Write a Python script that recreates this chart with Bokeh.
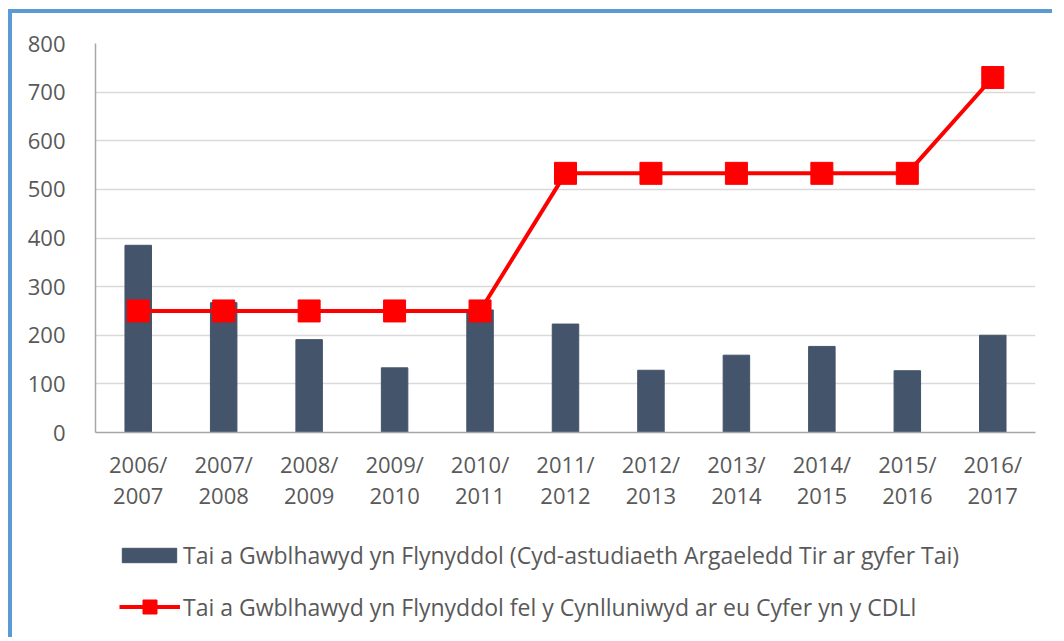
from bokeh.plotting import figure
from bokeh.models import FactorRange, Range1d, Legend, LegendItem, FixedTicker, ColumnDataSource, Spacer
from bokeh.layouts import column, row
from bokeh.embed import file_html
from bokeh.resources import INLINE

years = ["2006/\n2007", "2007/\n2008", "2008/\n2009", "2009/\n2010", "2010/\n2011",
         "2011/\n2012", "2012/\n2013", "2013/\n2014", "2014/\n2015", "2015/\n2016", "2016/\n2017"]
completed = [385, 267, 191, 133, 252, 223, 128, 159, 177, 127, 200]
planned = [250, 250, 250, 250, 250, 533, 533, 533, 533, 533, 730]
y_ticks = [0, 100, 200, 300, 400, 500, 600, 700, 800]

label_bar = "Tai a Gwblhawyd yn Flynyddol (Cyd-astudiaeth Argaeledd Tir ar gyfer Tai)"
label_line = "Tai a Gwblhawyd yn Flynyddol fel y Cynlluniwyd ar eu Cyfer yn y CDLl"

FONT = "Open Sans"
TXT = "#595959"
BAR = "#44546A"
RED = "#FF0000"
BLUE = "4px solid #5B9BD5"

src = ColumnDataSource(dict(x=years, completed=completed, planned=planned))
xr = FactorRange(factors=years, range_padding=0)

# ---- main chart ----
p = figure(frame_width=936, frame_height=385, x_range=xr, y_range=Range1d(0, 800),
           output_backend="svg", toolbar_location=None,
           min_border_left=83, min_border_right=21, min_border_top=30, min_border_bottom=89)
p.outline_line_color = None
p.border_fill_color = "white"

bars = p.vbar(x="x", top="completed", width=0.31, source=src, fill_color=BAR, line_color=BAR)
ln = p.line(x="x", y="planned", source=src, line_color=RED, line_width=4)
mk = p.scatter(x="x", y="planned", source=src, marker="square", size=22,
               fill_color=RED, line_color=RED)

p.xgrid.grid_line_color = None
p.ygrid.grid_line_color = "#D9D9D9"
p.ygrid.grid_line_width = 1.5

p.yaxis.ticker = FixedTicker(ticks=y_ticks)
for ax in (p.xaxis[0], p.yaxis[0]):
    ax.axis_line_color = "#A6A6A6"
    ax.axis_line_width = 1.5
    ax.major_tick_line_color = None
    ax.minor_tick_line_color = None
    ax.major_label_text_font = FONT
    ax.major_label_text_font_size = "22px"
    ax.major_label_text_color = TXT
p.yaxis.major_label_standoff = 24
p.xaxis.major_label_standoff = 10
p.xaxis.major_label_text_line_height = 1.05
p.styles = {"border-left": BLUE, "border-top": BLUE}

# ---- legend strip (same data, drawn out of its visible range; only the legend shows) ----
q = figure(width=1040, height=120, x_range=xr, y_range=Range1d(1000, 1100),
           output_backend="svg", toolbar_location=None,
           min_border_left=0, min_border_right=0, min_border_top=0, min_border_bottom=0)
q.axis.visible = False
q.grid.visible = False
q.outline_line_color = None
q.border_fill_color = "white"
qb = q.vbar(x="x", top="completed", width=0.31, source=src, fill_color=BAR, line_color=BAR)
ql = q.line(x="x", y="planned", source=src, line_color=RED, line_width=4)
qm = q.scatter(x="x", y="planned", source=src, marker="square", size=22,
               fill_color=RED, line_color=RED)

common = dict(padding=0, margin=0, border_line_color=None, label_text_font=FONT,
              label_text_font_size="23px", label_text_color=TXT, background_fill_alpha=0)
leg1 = Legend(items=[LegendItem(label=label_bar, renderers=[qb])], location=(20, 66),
              glyph_width=68, glyph_height=18, label_standoff=0, **common)
leg2 = Legend(items=[LegendItem(label=label_line, renderers=[ql, qm])], location=(24, 13),
              glyph_width=61, glyph_height=35, label_standoff=3, **common)
q.add_layout(leg1, "center")
q.add_layout(leg2, "center")
q.styles = {"border-left": BLUE}

layout = column(Spacer(height=9), row(Spacer(width=8), column(p, q)))
open("out.html", "w").write(file_html(layout, INLINE))
